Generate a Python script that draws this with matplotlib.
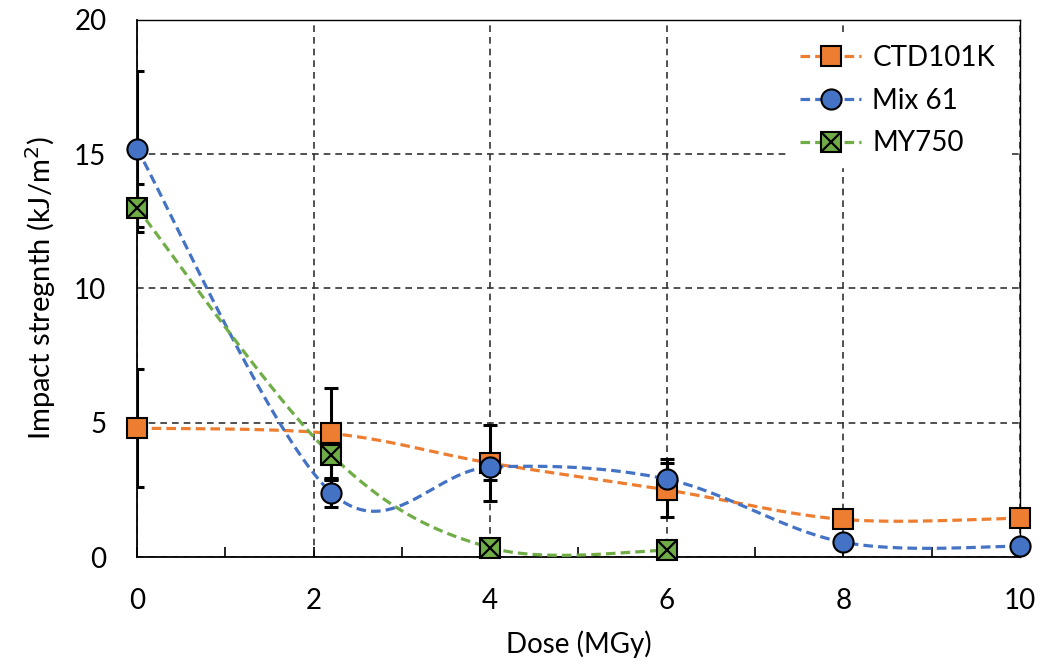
import numpy as np
import matplotlib
matplotlib.use('Agg')
import matplotlib.pyplot as plt
from matplotlib.lines import Line2D
from matplotlib.legend_handler import HandlerTuple

plt.rcParams['font.family'] = ['Lato', 'DejaVu Sans']

# Data
dose_ctd = [0, 2.2, 4, 6, 8, 10]
ctd101k = [4.8, 4.6, 3.5, 2.5, 1.4, 1.45]
ctd101k_err = [2.2, 1.7, 1.4, 1.0, 0.2, 0.1]

dose_mix = [0, 2.2, 4, 6, 8, 10]
mix61 = [15.2, 2.4, 3.35, 2.9, 0.55, 0.4]
mix61_err = [2.9, 0.55, 0.5, 0.75, 0.1, 0.05]

dose_my = [0, 2.2, 4, 6]
my750 = [13.0, 3.8, 0.35, 0.25]
my750_err = [0.9, 0.95, 0.1, 0.1]

c_orange = '#ED7D31'
c_blue = '#4472C4'
c_green = '#70AD47'


# Excel-like smoothed line (Bezier through the points)
def smooth(xs, ys, n=60):
    p = np.column_stack([xs, ys]).astype(float)
    out = []
    for i in range(len(p) - 1):
        p0 = p[i - 1] if i > 0 else p[i]
        p1 = p[i]
        p2 = p[i + 1]
        p3 = p[i + 2] if i + 2 < len(p) else p[i + 1]
        c1 = p1 + (p2 - p0) / 6
        c2 = p2 - (p3 - p1) / 6
        t = np.linspace(0, 1, n)[:, None]
        seg = ((1 - t) ** 3) * p1 + 3 * ((1 - t) ** 2) * t * c1 + 3 * (1 - t) * t ** 2 * c2 + t ** 3 * p2
        out.append(seg if i == 0 else seg[1:])
    out = np.vstack(out)
    return out[:, 0], out[:, 1]


fig = plt.figure(figsize=(10.48, 6.64), dpi=100)
ax = fig.add_axes([0.1307, 0.1611, 0.8426, 0.8089])

ms = 14.5
lw = 2.3
dash = (3, 1.6)

series = [
    (dose_ctd, ctd101k, ctd101k_err, c_orange, 's', 'CTD101K'),
    (dose_mix, mix61, mix61_err, c_blue, 'o', 'Mix 61'),
    (dose_my, my750, my750_err, c_green, 's', 'MY750'),
]

handles = []
for k, (xs, ys, err, col, mk, lab) in enumerate(series):
    sx, sy = smooth(xs, ys)
    ax.plot(sx, sy, color=col, lw=lw, dashes=dash, zorder=3 + k)
    ax.errorbar(xs, ys, yerr=err, fmt='none', ecolor='black', elinewidth=2.2,
                capsize=5, capthick=2.2, zorder=2.5)
    ax.plot(xs, ys, ls='none', marker=mk, ms=ms, mfc=col, mec='black', mew=1.5,
            zorder=6 + k, clip_on=False)
    h = Line2D([], [], color=col, lw=lw, dashes=dash, marker=mk, ms=ms, mfc=col,
               mec='black', mew=1.5)
    if lab == 'MY750':
        ax.plot(xs, ys, ls='none', marker='x', ms=ms - 0.5, mec='black', mew=1.6,
                zorder=9, clip_on=False)
        hx = Line2D([], [], ls='none', marker='x', ms=ms - 0.5, mec='black', mew=1.6)
        handles.append((h, hx))
    else:
        handles.append(h)

ax.set_xlim(0, 10)
ax.set_ylim(0, 20)
ax.set_xticks([0, 2, 4, 6, 8, 10])
ax.set_xticks([1, 3, 5, 7, 9], minor=True)
ax.set_yticks([0, 5, 10, 15, 20])
ax.tick_params(axis='x', which='both', direction='in', length=7, width=1.2, pad=22, labelsize=20)
ax.tick_params(axis='y', which='both', length=0, pad=22, labelsize=20)
for s in ax.spines.values():
    s.set_linewidth(1.3)
ax.spines['top'].set_linewidth(1.0)
ax.spines['right'].set_linewidth(1.0)

ax.grid(True, which='major', color='#333333', ls=(0, (4, 3)), lw=1.2)
ax.set_axisbelow(True)

ax.set_xlabel('Dose (MGy)', fontsize=20, labelpad=12)
ax.set_ylabel('Impact stregnth (kJ/m$^2$)', fontsize=21, labelpad=12)

leg = ax.legend(handles, ['CTD101K', 'Mix 61', 'MY750'],
                handler_map={tuple: HandlerTuple(ndivide=1)},
                loc='upper right', fontsize=20, frameon=True, fancybox=False,
                framealpha=1, edgecolor='white', handlelength=2.2,
                handletextpad=0.4, labelspacing=0.6, borderaxespad=0.5)
leg.set_zorder(20)

fig.savefig('out.png', dpi=100)
